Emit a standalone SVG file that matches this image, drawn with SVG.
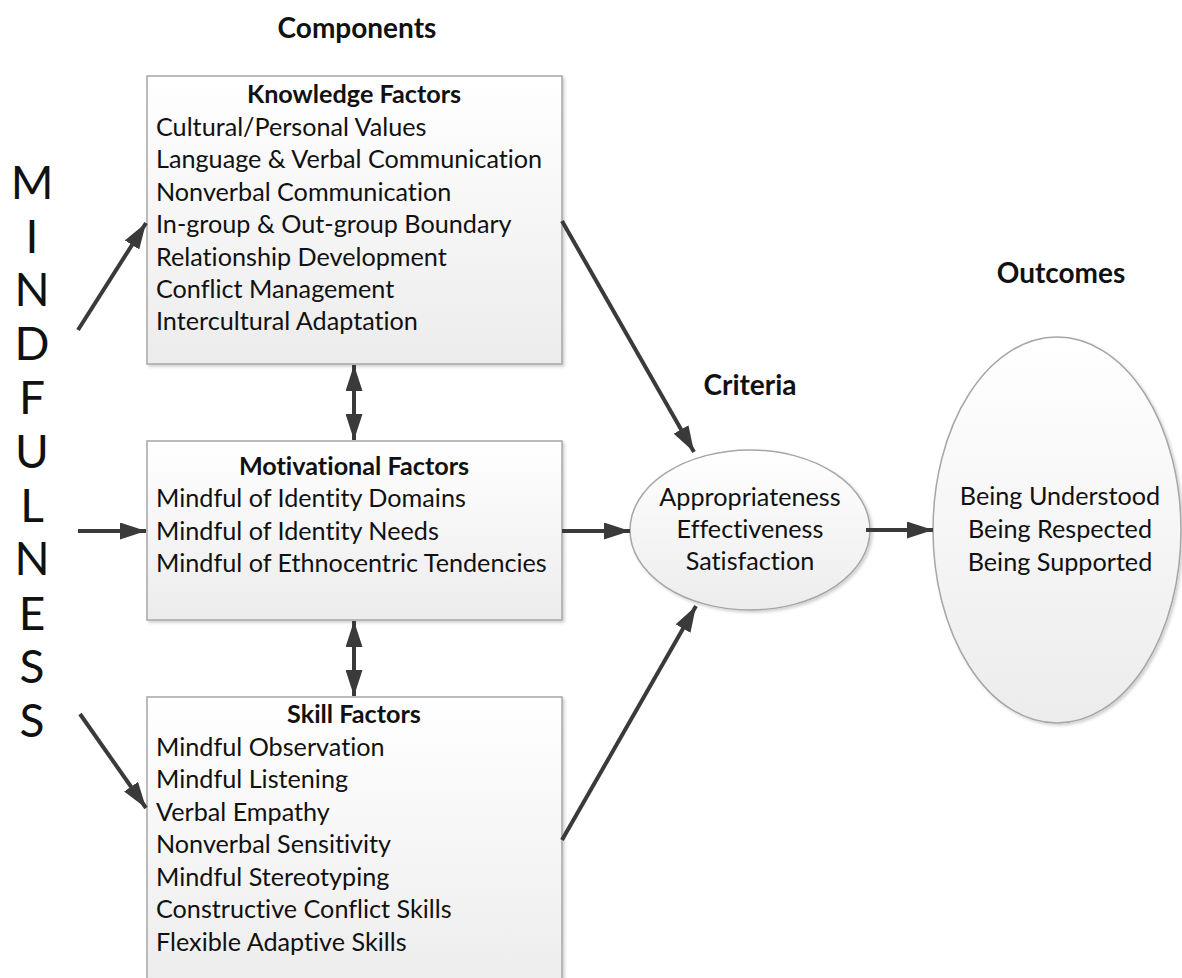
<svg xmlns="http://www.w3.org/2000/svg" width="1182" height="978" viewBox="0 0 1182 978">
<style>
text{font-variant-ligatures:none}
.t{font-family:Lato,"Liberation Sans",sans-serif;font-size:25.2px;fill:#111}
.b{font-weight:bold;text-anchor:middle}
.h{font-family:Lato,"Liberation Sans",sans-serif;font-size:28px;font-weight:bold;fill:#111;text-anchor:middle}
.c{text-anchor:middle}
.m{font-family:Lato,"Liberation Sans",sans-serif;font-size:46px;fill:#111;text-anchor:middle}
.box{fill:url(#g);stroke:#a6a6a6;stroke-width:1.5;filter:url(#sh)}
.arr{stroke:#3a3a3a;stroke-width:4;fill:none;marker-end:url(#ah)}
.dbl{stroke:#3a3a3a;stroke-width:4;fill:none;marker-end:url(#ah);marker-start:url(#ah)}
</style>
<defs>
<linearGradient id="g" x1="0" y1="0" x2="0" y2="1">
<stop offset="0" stop-color="#ffffff"/>
<stop offset="1" stop-color="#ececec"/>
</linearGradient>
<filter id="sh" x="-5%" y="-5%" width="115%" height="115%">
<feDropShadow dx="2" dy="2" stdDeviation="1.5" flood-color="#000" flood-opacity="0.18"/>
</filter>
<marker id="ah" viewBox="0 0 26 17" refX="26" refY="8.5" markerWidth="26" markerHeight="17" markerUnits="userSpaceOnUse" orient="auto-start-reverse">
<path d="M0,0 L26,8.5 L0,17 Z" fill="#3a3a3a"/>
</marker>
</defs>
<rect width="1182" height="978" fill="#fff"/>

<text class="h" x="357" y="38">Components</text>
<text class="h" x="750" y="395">Criteria</text>
<text class="h" x="1061" y="283">Outcomes</text>

<g id="mindfulness">
<text class="m" x="32" y="199">M</text>
<text class="m" x="32" y="253">I</text>
<text class="m" x="32" y="306">N</text>
<text class="m" x="32" y="360">D</text>
<text class="m" x="32" y="414">F</text>
<text class="m" x="32" y="468">U</text>
<text class="m" x="32" y="522">L</text>
<text class="m" x="32" y="575">N</text>
<text class="m" x="32" y="630">E</text>
<text class="m" x="32" y="683">S</text>
<text class="m" x="32" y="737">S</text>
</g>

<g id="knowledge">
<rect class="box" x="147" y="76" width="415" height="288"/>
<text class="t b" x="354" y="103">Knowledge Factors</text>
<text class="t" x="156" y="136">Cultural/Personal Values</text>
<text class="t" x="156" y="168">Language &amp; Verbal Communication</text>
<text class="t" x="156" y="201">Nonverbal Communication</text>
<text class="t" x="156" y="233">In-group &amp; Out-group Boundary</text>
<text class="t" x="156" y="266">Relationship Development</text>
<text class="t" x="156" y="298">Conflict Management</text>
<text class="t" x="156" y="330">Intercultural Adaptation</text>
</g>

<g id="motivational">
<rect class="box" x="147" y="441" width="415" height="179"/>
<text class="t b" x="354" y="475">Motivational Factors</text>
<text class="t" x="156" y="507">Mindful of Identity Domains</text>
<text class="t" x="156" y="540">Mindful of Identity Needs</text>
<text class="t" x="156" y="572">Mindful of Ethnocentric Tendencies</text>
</g>

<g id="skill">
<rect class="box" x="147" y="697" width="415" height="300"/>
<text class="t b" x="354" y="723">Skill Factors</text>
<text class="t" x="156" y="756">Mindful Observation</text>
<text class="t" x="156" y="788">Mindful Listening</text>
<text class="t" x="156" y="821">Verbal Empathy</text>
<text class="t" x="156" y="853">Nonverbal Sensitivity</text>
<text class="t" x="156" y="886">Mindful Stereotyping</text>
<text class="t" x="156" y="918">Constructive Conflict Skills</text>
<text class="t" x="156" y="951">Flexible Adaptive Skills</text>
</g>

<g id="criteria">
<ellipse class="box" cx="750" cy="530" rx="120" ry="80"/>
<text class="t c" x="750" y="506">Appropriateness</text>
<text class="t c" x="750" y="538">Effectiveness</text>
<text class="t c" x="750" y="570">Satisfaction</text>
</g>

<g id="outcomes">
<ellipse class="box" cx="1057" cy="530" rx="124" ry="193"/>
<text class="t c" x="1060" y="505">Being Understood</text>
<text class="t c" x="1060" y="538">Being Respected</text>
<text class="t c" x="1060" y="571">Being Supported</text>
</g>

<g id="connectors">
<line class="arr" x1="78" y1="330" x2="146" y2="223"/>
<line class="arr" x1="78" y1="531" x2="146" y2="531"/>
<line class="arr" x1="80" y1="714" x2="146" y2="808"/>
<line class="dbl" x1="354" y1="365" x2="354" y2="440"/>
<line class="dbl" x1="354" y1="621" x2="354" y2="696"/>
<line class="arr" x1="562" y1="221" x2="694" y2="452"/>
<line class="arr" x1="562" y1="531" x2="630" y2="531"/>
<line class="arr" x1="562" y1="840" x2="696" y2="606"/>
<line class="arr" x1="866" y1="530" x2="933" y2="530"/>
</g>
</svg>
